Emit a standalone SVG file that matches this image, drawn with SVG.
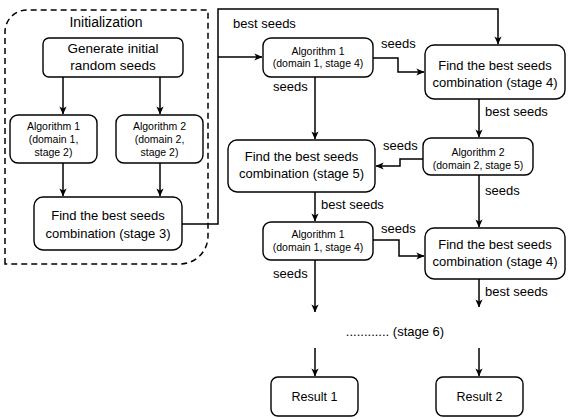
<svg xmlns="http://www.w3.org/2000/svg" width="571" height="419" viewBox="0 0 571 419">
<style>
.box{fill:#fff;stroke:#000;stroke-width:1.4}
.ln{fill:none;stroke:#000;stroke-width:1.5}
.t{font-family:"Liberation Sans",Arial,sans-serif;fill:#000}
.m{font-size:13px;text-anchor:middle}
.s{font-size:10.5px;text-anchor:middle}
.l{font-size:13px}
</style>
<defs>
<marker id="ah" viewBox="0 0 10 10" refX="9.5" refY="5" markerWidth="8" markerHeight="8" markerUnits="userSpaceOnUse" orient="auto">
<path d="M0,0.5 L10,5 L0,9.5 L2.5,5 z" fill="#000"/>
</marker>
</defs>
<rect width="571" height="419" fill="#fff"/>
<g id="init-group">
<path d="M5,264 L5,32 A22,22 0 0 1 27,10 L208,10 L208,236 A28,28 0 0 1 180,264 Z" fill="none" stroke="#000" stroke-width="1.5" stroke-dasharray="6,4"/>
<text class="t" x="106" y="27" font-size="14" text-anchor="middle">Initialization</text>
</g>
<g id="connectors">
<path class="ln" d="M63,77 V114" marker-end="url(#ah)"/>
<path class="ln" d="M160,77 V114" marker-end="url(#ah)"/>
<path class="ln" d="M63,163 V196" marker-end="url(#ah)"/>
<path class="ln" d="M160,163 V196" marker-end="url(#ah)"/>
<path class="ln" d="M182,224 H218 V9 H498 V44" marker-end="url(#ah)"/>
<path class="ln" d="M218,57 H262" marker-end="url(#ah)"/>
<path class="ln" d="M373,58 H398 V72 H424" marker-end="url(#ah)"/>
<path class="ln" d="M315,77 V139" marker-end="url(#ah)"/>
<path class="ln" d="M479,99 V137" marker-end="url(#ah)"/>
<path class="ln" d="M423,159 H400 V166 H376" marker-end="url(#ah)"/>
<path class="ln" d="M315,192 V221" marker-end="url(#ah)"/>
<path class="ln" d="M479,175 V227" marker-end="url(#ah)"/>
<path class="ln" d="M373,240 H399 V256 H424" marker-end="url(#ah)"/>
<path class="ln" d="M315,260 V312" marker-end="url(#ah)"/>
<path class="ln" d="M479,279 V307" marker-end="url(#ah)"/>
<path class="ln" d="M315,348 V376" marker-end="url(#ah)"/>
<path class="ln" d="M479,348 V376" marker-end="url(#ah)"/>
<text class="t l" x="233" y="28">best seeds</text>
<text class="t l" x="381" y="48">seeds</text>
<text class="t l" x="273" y="91">seeds</text>
<text class="t l" x="485" y="116">best seeds</text>
<text class="t l" x="383" y="150">seeds</text>
<text class="t l" x="485" y="195">seeds</text>
<text class="t l" x="321" y="209">best seeds</text>
<text class="t l" x="381" y="233">seeds</text>
<text class="t l" x="273" y="278">seeds</text>
<text class="t l" x="485" y="296">best seeds</text>
</g>
<g id="generate">
<rect class="box" x="43" y="38" width="140" height="39" rx="6"/>
<text class="t" x="113" y="53" font-size="13.5" text-anchor="middle">Generate initial</text>
<text class="t" x="113" y="70" font-size="13.5" text-anchor="middle">random seeds</text>
</g>
<g id="alg1-stage2">
<rect class="box" x="10" y="115" width="87" height="48" rx="8"/>
<text class="t s" x="53.5" y="130">Algorithm 1</text>
<text class="t s" x="53.5" y="143">(domain 1,</text>
<text class="t s" x="53.5" y="156">stage 2)</text>
</g>
<g id="alg2-stage2">
<rect class="box" x="116" y="115" width="87" height="48" rx="8"/>
<text class="t s" x="159.5" y="130">Algorithm 2</text>
<text class="t s" x="159.5" y="143">(domain 2,</text>
<text class="t s" x="159.5" y="156">stage 2)</text>
</g>
<g id="best-stage3">
<rect class="box" x="34" y="197" width="148" height="53" rx="9"/>
<text class="t m" x="108" y="220">Find the best seeds</text>
<text class="t m" x="108" y="238">combination (stage 3)</text>
</g>
<g id="alg1-stage4-a">
<rect class="box" x="263" y="38" width="110" height="39" rx="8"/>
<text class="t s" x="318" y="55">Algorithm 1</text>
<text class="t s" x="318" y="67">(domain 1, stage 4)</text>
</g>
<g id="best-stage4-a">
<rect class="box" x="425" y="45" width="140" height="54" rx="9"/>
<text class="t m" x="495" y="70">Find the best seeds</text>
<text class="t m" x="495" y="87">combination (stage 4)</text>
</g>
<g id="alg2-stage5">
<rect class="box" x="423" y="138" width="110" height="37" rx="8"/>
<text class="t s" x="478" y="156">Algorithm 2</text>
<text class="t s" x="478" y="169">(domain 2, stage 5)</text>
</g>
<g id="best-stage5">
<rect class="box" x="228" y="140" width="147" height="52" rx="9"/>
<text class="t m" x="301.5" y="161">Find the best seeds</text>
<text class="t m" x="301.5" y="178">combination (stage 5)</text>
</g>
<g id="alg1-stage4-b">
<rect class="box" x="263" y="222" width="110" height="38" rx="8"/>
<text class="t s" x="318" y="238">Algorithm 1</text>
<text class="t s" x="318" y="251">(domain 1, stage 4)</text>
</g>
<g id="best-stage4-b">
<rect class="box" x="425" y="228" width="140" height="51" rx="9"/>
<text class="t m" x="495" y="249">Find the best seeds</text>
<text class="t m" x="495" y="266">combination (stage 4)</text>
</g>
<g id="stage6">
<text class="t m" x="395" y="336">............ (stage 6)</text>
</g>
<g id="result1">
<rect class="box" x="271" y="377" width="87" height="39" rx="7"/>
<text class="t" x="314.5" y="401" font-size="12.5" text-anchor="middle">Result 1</text>
</g>
<g id="result2">
<rect class="box" x="436" y="377" width="87" height="39" rx="7"/>
<text class="t" x="479.5" y="401" font-size="12.5" text-anchor="middle">Result 2</text>
</g>
</svg>
